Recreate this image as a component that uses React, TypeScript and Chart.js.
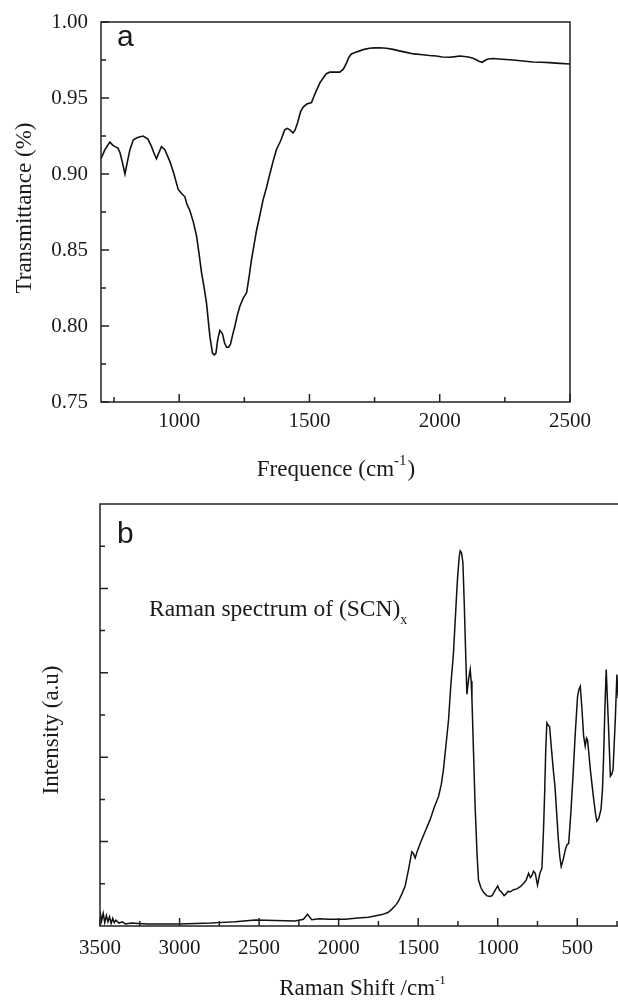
import React, { useEffect, useRef } from "react";
import { Chart, registerables } from "chart.js";
Chart.register(...registerables);

// ---------- Panel a: FTIR ----------
const ftirWavenumber = [700, 715, 734, 745, 754, 765, 773, 783, 792, 800, 811, 824, 840, 862, 880, 894, 905, 913, 922, 932, 945, 965, 980, 996, 1010, 1022, 1030, 1041, 1055, 1067, 1076, 1086, 1095, 1105, 1112, 1118, 1128, 1135, 1141, 1148, 1156, 1166, 1174, 1182, 1190, 1197, 1205, 1214, 1223, 1233, 1245, 1259, 1268, 1277, 1287, 1297, 1310, 1322, 1335, 1348, 1360, 1373, 1390, 1405, 1415, 1425, 1437, 1445, 1455, 1466, 1476, 1490, 1508, 1517, 1527, 1540, 1552, 1565, 1578, 1600, 1616, 1630, 1642, 1652, 1661, 1675, 1693, 1710, 1731, 1750, 1770, 1795, 1821, 1845, 1872, 1900, 1936, 1960, 1987, 2010, 2038, 2060, 2077, 2095, 2115, 2130, 2140, 2150, 2163, 2175, 2185, 2204, 2240, 2281, 2320, 2357, 2390, 2421, 2460, 2500];
const ftirTransmittance = [0.910, 0.916, 0.921, 0.919, 0.918, 0.917, 0.914, 0.907, 0.900, 0.907, 0.916, 0.9225, 0.924, 0.925, 0.923, 0.918, 0.913, 0.910, 0.914, 0.918, 0.916, 0.908, 0.900, 0.890, 0.887, 0.885, 0.880, 0.876, 0.868, 0.859, 0.848, 0.835, 0.826, 0.815, 0.803, 0.793, 0.782, 0.781, 0.782, 0.791, 0.797, 0.795, 0.789, 0.786, 0.786, 0.788, 0.794, 0.800, 0.807, 0.813, 0.818, 0.822, 0.832, 0.843, 0.853, 0.863, 0.873, 0.883, 0.891, 0.900, 0.908, 0.916, 0.922, 0.929, 0.930, 0.929, 0.927, 0.929, 0.934, 0.941, 0.944, 0.946, 0.947, 0.951, 0.955, 0.960, 0.963, 0.966, 0.967, 0.967, 0.967, 0.969, 0.973, 0.977, 0.979, 0.980, 0.981, 0.982, 0.9827, 0.983, 0.9831, 0.9827, 0.982, 0.981, 0.980, 0.979, 0.9785, 0.978, 0.9776, 0.977, 0.9768, 0.9772, 0.9776, 0.9773, 0.9768, 0.976, 0.9752, 0.9742, 0.9735, 0.9748, 0.9757, 0.976, 0.9755, 0.975, 0.9743, 0.9737, 0.9735, 0.9733, 0.9728, 0.9724];
const ftirTicksX = [1000, 1500, 2000, 2500];
const ftirMinorX = [750, 1250, 1750, 2250];
const ftirTicksY = [0.75, 0.8, 0.85, 0.9, 0.95, 1.0];
const ftirMinorY = [0.775, 0.825, 0.875, 0.925, 0.975];

// ---------- Panel b: Raman ----------
const ramanShift = [3500, 3490, 3480, 3470, 3460, 3450, 3440, 3430, 3420, 3410, 3400, 3380, 3360, 3340, 3300, 3259, 3200, 3100, 3008, 2900, 2800, 2756, 2650, 2525, 2400, 2274, 2221, 2196, 2169, 2120, 2064, 1959, 1880, 1812, 1728, 1690, 1665, 1640, 1624, 1600, 1582, 1561, 1540, 1530, 1519, 1505, 1487, 1455, 1425, 1400, 1372, 1355, 1341, 1325, 1309, 1295, 1278, 1265, 1253, 1242, 1236, 1228, 1219, 1210, 1204, 1194, 1183, 1173, 1167, 1162, 1152, 1142, 1130, 1121, 1105, 1089, 1070, 1050, 1035, 1016, 1000, 990, 975, 960, 950, 935, 921, 900, 880, 858, 835, 820, 806, 795, 785, 775, 764, 750, 735, 722, 712, 705, 698, 691, 682, 674, 660, 649, 640, 632, 620, 610, 601, 590, 575, 565, 554, 540, 527, 512, 498, 490, 481, 470, 460, 450, 442, 435, 425, 418, 400, 385, 377, 365, 351, 342, 335, 326, 318, 311, 303, 292, 283, 275, 268, 261, 251, 243];
const ramanIntensity = [0.35, 0.12, 0.30, 0.08, 0.25, 0.10, 0.22, 0.06, 0.18, 0.08, 0.14, 0.07, 0.10, 0.05, 0.07, 0.06, 0.05, 0.05, 0.05, 0.06, 0.07, 0.08, 0.10, 0.14, 0.13, 0.12, 0.16, 0.28, 0.15, 0.17, 0.16, 0.16, 0.19, 0.21, 0.27, 0.32, 0.40, 0.50, 0.59, 0.78, 0.95, 1.33, 1.76, 1.72, 1.61, 1.78, 1.96, 2.25, 2.52, 2.80, 3.07, 3.35, 3.71, 4.30, 4.89, 5.70, 6.48, 7.40, 8.22, 8.75, 8.89, 8.85, 8.62, 7.60, 6.79, 5.49, 5.85, 6.08, 5.80, 5.37, 4.10, 2.83, 1.70, 1.09, 0.90, 0.80, 0.72, 0.70, 0.72, 0.85, 0.95, 0.85, 0.80, 0.72, 0.75, 0.82, 0.81, 0.86, 0.88, 0.93, 1.02, 1.10, 1.25, 1.15, 1.20, 1.30, 1.25, 0.97, 1.25, 1.37, 2.30, 3.15, 4.20, 4.81, 4.75, 4.73, 4.10, 3.63, 3.30, 2.83, 2.10, 1.65, 1.41, 1.55, 1.81, 1.92, 1.96, 2.70, 3.55, 4.60, 5.45, 5.60, 5.68, 5.10, 4.50, 4.26, 4.45, 4.40, 4.00, 3.71, 3.10, 2.65, 2.48, 2.55, 2.76, 3.20, 3.94, 5.20, 6.08, 5.40, 4.66, 3.55, 3.60, 3.71, 4.30, 4.89, 5.96, 5.40];
const ramanTicksX = [500, 1000, 1500, 2000, 2500, 3000, 3500];
const ramanMinorX = [250, 750, 1250, 1750, 2250, 2750, 3250];
const ramanMajorY = [2, 4, 6, 8];
const ramanMinorY = [1, 3, 5, 7, 9];

const SERIF = "'Liberation Serif', 'Times New Roman', serif";
const SANS = "'Liberation Sans', Arial, sans-serif";
const INK = "#1a1a1a";

type Part = { text: string; sup?: boolean; sub?: boolean };

function drawParts(ctx: CanvasRenderingContext2D, parts: Part[], x: number, baseline: number, size: number, small: number, shift: number, align: "left" | "center") {
  const widths = parts.map((p) => {
    ctx.font = `${p.sup || p.sub ? small : size}px ${SERIF}`;
    return ctx.measureText(p.text).width;
  });
  const total = widths.reduce((a, b) => a + b, 0);
  let cx = align === "center" ? x - total / 2 : x;
  ctx.textAlign = "left";
  ctx.textBaseline = "alphabetic";
  parts.forEach((p, i) => {
    ctx.font = `${p.sup || p.sub ? small : size}px ${SERIF}`;
    const dy = p.sup ? -shift : p.sub ? shift : 0;
    ctx.fillText(p.text, cx, baseline + dy);
    cx += widths[i] + (p.sup || p.sub ? 1 : 0);
  });
}

function makeDecor(id: string, cfg: {
  majorX: number[]; minorX: number[]; majorY: number[]; minorY: number[];
  text: (ctx: CanvasRenderingContext2D, ca: any) => void;
}) {
  return {
    id,
    afterDraw(chart: any) {
      const { ctx, chartArea: ca, scales } = chart;
      const xs = scales.x;
      const ys = scales.y;
      ctx.save();
      ctx.strokeStyle = "#222";
      ctx.lineWidth = 1.5;
      ctx.strokeRect(ca.left, ca.top, ca.right - ca.left, ca.bottom - ca.top);
      ctx.beginPath();
      cfg.majorX.forEach((v) => { const p = xs.getPixelForValue(v); ctx.moveTo(p, ca.bottom); ctx.lineTo(p, ca.bottom - 8); });
      cfg.minorX.forEach((v) => { const p = xs.getPixelForValue(v); ctx.moveTo(p, ca.bottom); ctx.lineTo(p, ca.bottom - 5); });
      cfg.majorY.forEach((v) => { const p = ys.getPixelForValue(v); ctx.moveTo(ca.left, p); ctx.lineTo(ca.left + 8, p); });
      cfg.minorY.forEach((v) => { const p = ys.getPixelForValue(v); ctx.moveTo(ca.left, p); ctx.lineTo(ca.left + 5, p); });
      ctx.stroke();
      ctx.fillStyle = INK;
      cfg.text(ctx, ca);
      ctx.restore();
    },
  };
}

export default function App() {
  const refA = useRef<HTMLCanvasElement>(null);
  const refB = useRef<HTMLCanvasElement>(null);

  useEffect(() => {
    const tickFont = { family: SERIF, size: 21 };

    const chartA = new Chart(refA.current!, {
      type: "line",
      data: {
        datasets: [{
          data: ftirWavenumber.map((x, i) => ({ x, y: ftirTransmittance[i] })),
          borderColor: "#111",
          borderWidth: 1.6,
          pointRadius: 0,
          tension: 0,
          fill: false,
        }],
      },
      options: {
        responsive: false,
        animation: false,
        layout: { padding: { left: 0, top: 22, right: 48, bottom: 0 } },
        plugins: { legend: { display: false }, tooltip: { enabled: false } },
        scales: {
          x: {
            type: "linear", min: 700, max: 2500,
            grid: { display: false }, border: { display: false },
            afterBuildTicks: (s: any) => { s.ticks = ftirTicksX.map((v) => ({ value: v })); },
            afterFit: (s: any) => { s.height = 88; },
            ticks: { font: tickFont, color: INK, padding: -1, autoSkip: false, maxRotation: 0, callback: (v: any) => String(v) },
          },
          y: {
            type: "linear", min: 0.75, max: 1.0,
            grid: { display: false }, border: { display: false },
            afterBuildTicks: (s: any) => { s.ticks = ftirTicksY.map((v) => ({ value: v })); },
            afterFit: (s: any) => { s.width = 101; },
            ticks: { font: tickFont, color: INK, padding: 5, autoSkip: false, callback: (v: any) => Number(v).toFixed(2) },
          },
        },
      },
      plugins: [makeDecor("decorA", {
        majorX: ftirTicksX, minorX: ftirMinorX, majorY: ftirTicksY, minorY: ftirMinorY,
        text: (ctx, ca) => {
          ctx.font = `30px ${SANS}`;
          ctx.textAlign = "left";
          ctx.textBaseline = "alphabetic";
          ctx.fillText("a", 117, 46);
          drawParts(ctx, [{ text: "Frequence (cm" }, { text: "-1", sup: true }, { text: ")" }], (ca.left + ca.right) / 2, 476, 23, 15, 11, "center");
          ctx.save();
          ctx.translate(31, 208);
          ctx.rotate(-Math.PI / 2);
          ctx.font = `23px ${SERIF}`;
          ctx.textAlign = "center";
          ctx.fillText("Transmittance (%)", 0, 0);
          ctx.restore();
        },
      })],
    } as any);

    const chartB = new Chart(refB.current!, {
      type: "line",
      data: {
        datasets: [{
          data: ramanShift.map((x, i) => ({ x, y: ramanIntensity[i] })),
          borderColor: "#111",
          borderWidth: 1.5,
          pointRadius: 0,
          tension: 0,
          fill: false,
        }],
      },
      options: {
        responsive: false,
        animation: false,
        layout: { padding: { left: 0, top: 14, right: 15, bottom: 0 } },
        plugins: { legend: { display: false }, tooltip: { enabled: false } },
        scales: {
          x: {
            type: "linear", min: 200, max: 3500, reverse: true,
            grid: { display: false }, border: { display: false },
            afterBuildTicks: (s: any) => { s.ticks = ramanTicksX.map((v) => ({ value: v })); },
            afterFit: (s: any) => { s.height = 74; },
            ticks: { font: tickFont, color: INK, padding: 2, autoSkip: false, maxRotation: 0, callback: (v: any) => String(v) },
          },
          y: {
            type: "linear", min: 0, max: 10,
            grid: { display: false }, border: { display: false },
            afterFit: (s: any) => { s.width = 100; },
            ticks: { display: false },
          },
        },
      },
      plugins: [makeDecor("decorB", {
        majorX: ramanTicksX, minorX: ramanMinorX, majorY: ramanMajorY, minorY: ramanMinorY,
        text: (ctx, ca) => {
          ctx.font = `30px ${SANS}`;
          ctx.textAlign = "left";
          ctx.textBaseline = "alphabetic";
          ctx.fillText("b", 117, 53);
          drawParts(ctx, [{ text: "Raman spectrum of (SCN)" }, { text: "x", sub: true }], 149, 126, 23.5, 14, 8, "left");
          drawParts(ctx, [{ text: "Raman Shift /cm" }, { text: "-1", sup: true }], (ca.left + ca.right) / 2, 505, 23, 13, 11, "center");
          ctx.save();
          ctx.translate(58, 240);
          ctx.rotate(-Math.PI / 2);
          ctx.font = `23px ${SERIF}`;
          ctx.textAlign = "center";
          ctx.fillText("Intensity (a.u)", 0, 0);
          ctx.restore();
        },
      })],
    } as any);

    return () => { chartA.destroy(); chartB.destroy(); };
  }, []);

  return (
    <div style={{ position: "fixed", left: 0, top: 0, width: 618, height: 1000, overflow: "hidden", background: "#fff" }}>
      <div style={{ position: "absolute", left: 0, top: 0, width: 618, height: 490 }}>
        <canvas ref={refA} width={618} height={490} style={{ width: 618, height: 490, display: "block" }} />
      </div>
      <div style={{ position: "absolute", left: 0, top: 490, width: 640, height: 510 }}>
        <canvas ref={refB} width={640} height={510} style={{ width: 640, height: 510, display: "block" }} />
      </div>
    </div>
  );
}
